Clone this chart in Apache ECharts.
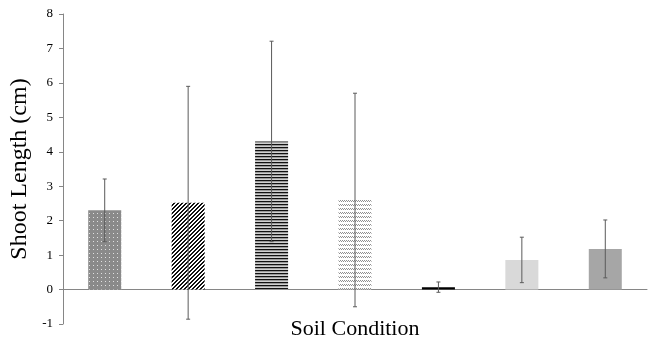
<!DOCTYPE html>
<html>
<head>
<meta charset="utf-8">
<script src="https://cdn.jsdelivr.net/npm/echarts@6/dist/echarts.min.js"></script>
<style>html,body{margin:0;padding:0;background:#fff}#c{width:652px;height:341px}</style>
</head>
<body>
<div id="c"></div>
<script>
var categories = ['C1', 'C2', 'C3', 'C4', 'C5', 'C6', 'C7'];
var means = [2.30, 2.52, 4.30, 2.60, 0.07, 0.86, 1.18];
var errors = [0.91, 3.38, 2.91, 3.10, 0.15, 0.66, 0.84];
var yTicks = {min: -1, max: 8, interval: 1};

function pattern(w, h, draw) {
  var c = document.createElement('canvas');
  c.width = w; c.height = h;
  var ctx = c.getContext('2d');
  draw(ctx);
  return {image: c, repeat: 'repeat'};
}
function px(ctx, x, y, col) { ctx.fillStyle = col; ctx.fillRect(x, y, 1, 1); }

var fills = [
  pattern(4, 4, function (ctx) {
    ctx.fillStyle = '#8a8a8a'; ctx.fillRect(0, 0, 4, 4);
    px(ctx, 1, 1, '#e0e0e0');
  }),
  pattern(4, 4, function (ctx) {
    ctx.fillStyle = '#ffffff'; ctx.fillRect(0, 0, 4, 4);
    for (var x = 0; x < 4; x++) for (var y = 0; y < 4; y++) {
      if ((x + y) % 4 < 2) px(ctx, x, y, '#111111');
    }
  }),
  pattern(4, 3, function (ctx) {
    ctx.fillStyle = '#111111'; ctx.fillRect(0, 0, 4, 1);
    ctx.fillStyle = '#9a9a9a'; ctx.fillRect(0, 1, 4, 1);
    ctx.fillStyle = '#d0d0d0'; ctx.fillRect(0, 2, 4, 1);
  }),
  pattern(4, 4, function (ctx) {
    ctx.fillStyle = '#ffffff'; ctx.fillRect(0, 0, 4, 4);
    px(ctx, 0, 0, '#8f8f8f'); px(ctx, 2, 0, '#8f8f8f');
    px(ctx, 1, 1, '#8f8f8f'); px(ctx, 3, 1, '#8f8f8f');
  }),
  '#000000',
  '#d9d9d9',
  '#a6a6a6'
];

var barData = means.map(function (v, i) {
  return {value: v, itemStyle: {color: fills[i]}};
});
var errData = means.map(function (v, i) {
  return [i, v - errors[i], v + errors[i]];
});

var chart = echarts.init(document.getElementById('c'));
chart.setOption({
  animation: false,
  backgroundColor: '#ffffff',
  grid: {left: 63, right: 5, top: 14, bottom: 17, containLabel: false, outerBoundsMode: 'none'},
  xAxis: {
    type: 'category',
    data: categories,
    axisLine: {lineStyle: {color: '#868686', width: 1}},
    axisTick: {length: 4, lineStyle: {color: '#868686'}},
    axisLabel: {show: false}
  },
  yAxis: {
    type: 'value',
    min: yTicks.min, max: yTicks.max, interval: yTicks.interval,
    name: 'Shoot Length (cm)',
    nameLocation: 'middle',
    nameGap: 28,
    nameTextStyle: {fontFamily: 'Liberation Serif', fontSize: 24, color: '#000'},
    axisLine: {show: true, lineStyle: {color: '#868686', width: 1}},
    axisTick: {show: true, length: 4, lineStyle: {color: '#868686'}},
    axisLabel: {fontFamily: 'Liberation Serif', fontSize: 13, color: '#000', margin: 10},
    splitLine: {show: false}
  },
  title: {
    text: 'Soil Condition',
    left: 355, top: 318, textAlign: 'center', padding: 0,
    textStyle: {fontFamily: 'Liberation Serif', fontSize: 22, fontWeight: 'normal', color: '#000'}
  },
  series: [
    {
      type: 'bar',
      data: barData,
      barWidth: 33
    },
    {
      type: 'custom',
      data: errData,
      z: 10,
      renderItem: function (params, api) {
        var x = api.value(0);
        var lo = api.coord([x, api.value(1)]);
        var hi = api.coord([x, api.value(2)]);
        var cw = 2;
        var st = {stroke: '#5a5a5a', lineWidth: 1};
        return {
          type: 'group',
          children: [
            {type: 'line', shape: {x1: lo[0], y1: lo[1], x2: hi[0], y2: hi[1]}, style: st},
            {type: 'line', shape: {x1: hi[0] - cw, y1: hi[1], x2: hi[0] + cw, y2: hi[1]}, style: st},
            {type: 'line', shape: {x1: lo[0] - cw, y1: lo[1], x2: lo[0] + cw, y2: lo[1]}, style: st}
          ]
        };
      }
    }
  ]
});
</script>
</body>
</html>
